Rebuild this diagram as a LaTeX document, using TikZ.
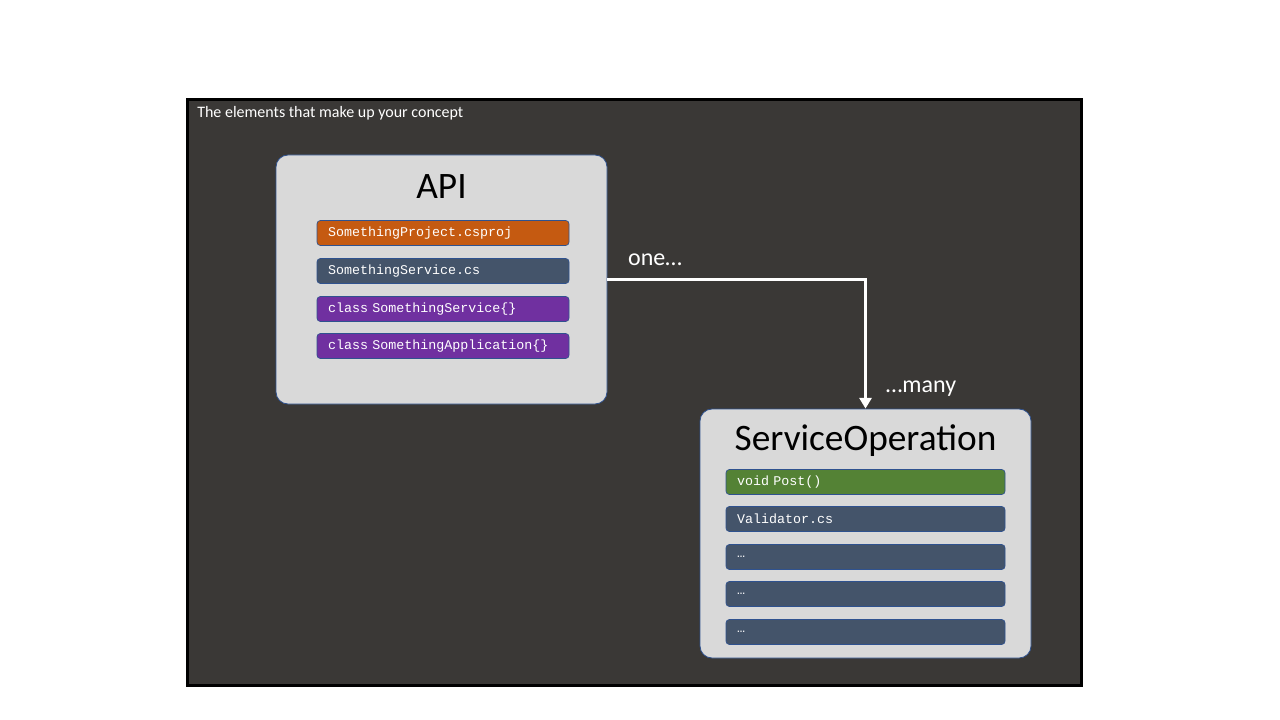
\documentclass[tikz,border=0pt]{standalone}
\usepackage{fontspec}
\setmainfont{Carlito}
\setmonofont{Liberation Mono}
\usepackage{tikz}
\usetikzlibrary{arrows.meta}
\definecolor{slate}{HTML}{3A3836}
\definecolor{boxgray}{HTML}{D9D9D9}
\definecolor{edgeblue}{HTML}{2F528F}
\definecolor{projorange}{HTML}{C55A11}
\definecolor{fileblue}{HTML}{44546A}
\definecolor{classpurple}{HTML}{7030A0}
\definecolor{methodgreen}{HTML}{548235}

\begin{document}
\begin{tikzpicture}[x=0.75pt, y=-0.75pt,
  bigbox/.style={draw=edgeblue, fill=boxgray, line width=0.6pt, rounded corners=9pt, minimum width=248.25pt, minimum height=186.75pt},
  item/.style={draw=edgeblue, line width=0.5pt, rounded corners=2.5pt, text=white, font=\ttfamily\fontsize{10}{12}\selectfont, inner xsep=8.25pt, inner ysep=0pt, minimum height=18.75pt},
  apiitem/.style={item, text width=172.5pt},
  opitem/.style={item, text width=192.75pt},
  heading/.style={font=\fontsize{28}{32}\selectfont, text=black, inner sep=0pt},
  mult/.style={font=\fontsize{18}{22}\selectfont, text=white, inner sep=0pt},
  conn/.style={draw=white, line width=2.25pt, -{Triangle[width=9pt,length=8pt]}}]
  \fill[white] (0,0) rectangle (1280,720);
  \draw[black, fill=slate, line width=2.25pt] (187.5,100) rectangle (1081.5,685.5);
  \node[anchor=west, text=white, inner sep=0pt, font=\fontsize{12}{14}\selectfont] (concept) at (197,113.5) {The elements that make up your concept};

  \node[bigbox] (api) at (441.5,279.5) {};
  \node[heading] (apititle) at (441.5,187) {API};
  \node[apiitem, fill=projorange] (proj) at (443,233) {SomethingProject.csproj};
  \node[apiitem, fill=fileblue] (svcfile) at (443,271) {SomethingService.cs};
  \node[apiitem, fill=classpurple] (svcclass) at (443,309) {class SomethingService\{\}};
  \node[apiitem, fill=classpurple] (appclass) at (443,346) {class SomethingApplication\{\}};

  \node[bigbox] (op) at (865.5,533.5) {};
  \node[heading] (optitle) at (865.5,441) {ServiceOperation};
  \node[opitem, fill=methodgreen] (post) at (865.5,482) {void Post()};
  \node[opitem, fill=fileblue] (validator) at (865.5,519) {Validator.cs};
  \node[opitem, fill=fileblue] (more1) at (865.5,557) {…};
  \node[opitem, fill=fileblue] (more2) at (865.5,594) {…};
  \node[opitem, fill=fileblue] (more3) at (865.5,632) {…};

  \draw[conn] (api.east) -| (op.north);
  \node[mult] (one) at (655,260) {one…};
  \node[mult] (many) at (921,389) {…many};
\end{tikzpicture}
\end{document}
